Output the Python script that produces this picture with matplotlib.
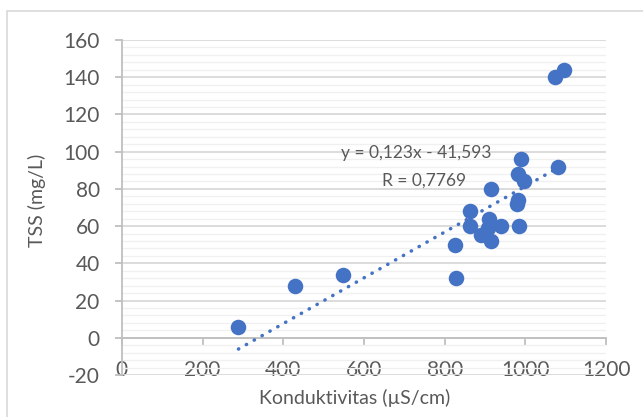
import matplotlib.pyplot as plt
import numpy as np
from matplotlib.patches import Rectangle
from matplotlib.ticker import MultipleLocator

# Conductivity (uS/cm) vs TSS (mg/L)
konduktivitas = [289, 429, 547, 825, 829, 862, 862, 891, 910, 907, 914, 914,
                 939, 982, 996, 982, 979, 984, 990, 1074, 1096, 1081]
tss = [6, 28, 34, 50, 32, 68, 60, 55, 64, 59, 52, 80,
       60, 88, 84, 74, 72, 60, 96, 140, 144, 92]

# linear trendline shown in the chart
slope, intercept = 0.123, -41.593
eq_label = 'y = 0,123x - 41,593'
r_label = 'R = 0,7769'

x_ticks = [0, 200, 400, 600, 800, 1000, 1200]
y_ticks = [-20, 0, 20, 40, 60, 80, 100, 120, 140, 160]

plt.rcParams['font.family'] = ['Lato', 'DejaVu Sans']
plt.rcParams['axes.unicode_minus'] = False
text_col = '#595959'
grid_col = '#d9d9d9'
blue = '#4472C4'

fig = plt.figure(figsize=(6.43, 4.17), dpi=100)
ax = fig.add_axes([0.1895, 0.1007, 0.753, 0.8033])

# chart frame
fig.patches.append(Rectangle((7 / 643, -0.1), 1.2, 1 - 11 / 417 + 0.1,
                             transform=fig.transFigure, fill=False,
                             edgecolor='#d9d9d9', linewidth=1.2))

ax.set_xlim(0, 1200)
ax.set_ylim(-20, 160)
ax.set_xticks(x_ticks)
ax.set_yticks(y_ticks)
ax.yaxis.set_minor_locator(MultipleLocator(4))

ax.grid(which='major', axis='y', color=grid_col, linewidth=1.3)
ax.grid(which='minor', axis='y', color='#f0f0f0', linewidth=1.0)
ax.set_axisbelow(True)

for s in ['top', 'right']:
    ax.spines[s].set_visible(False)
ax.spines['bottom'].set_position(('data', 0))
ax.spines['bottom'].set_color('#bfbfbf')
ax.spines['left'].set_color('#bfbfbf')
ax.spines['bottom'].set_linewidth(1.3)
ax.spines['left'].set_linewidth(1.3)

ax.tick_params(axis='x', which='major', direction='out', length=5, width=1.3,
               color='#bfbfbf', labelcolor=text_col, labelsize=15, pad=11)
ax.tick_params(axis='y', which='major', direction='out', length=5, width=1.3,
               color='#bfbfbf', labelcolor=text_col, labelsize=15, pad=11)
ax.tick_params(axis='y', which='minor', length=0)

ax.scatter(konduktivitas, tss, s=125, color=blue, zorder=3, linewidths=0)

xt = np.array([min(konduktivitas), max(konduktivitas)])
ax.plot(xt, slope * xt + intercept, color=blue, linewidth=2.5,
        linestyle=(0, (0.1, 2.5)), dash_capstyle='round', zorder=4)

ax.text(542, 99.5, eq_label, fontsize=12.5, color=text_col, va='center', ha='left', zorder=5)
ax.text(646, 84.5, r_label, fontsize=12.5, color=text_col, va='center', ha='left', zorder=5)

ax.set_xlabel('Konduktivitas (µS/cm)', fontsize=14, color=text_col, va='center')
ax.xaxis.set_label_coords(0.4815, -0.068)
ax.set_ylabel('TSS (mg/L)', fontsize=14, color=text_col, va='center')
ax.yaxis.set_label_coords(-0.176, 0.52)

fig.savefig('out.png', dpi=100)
